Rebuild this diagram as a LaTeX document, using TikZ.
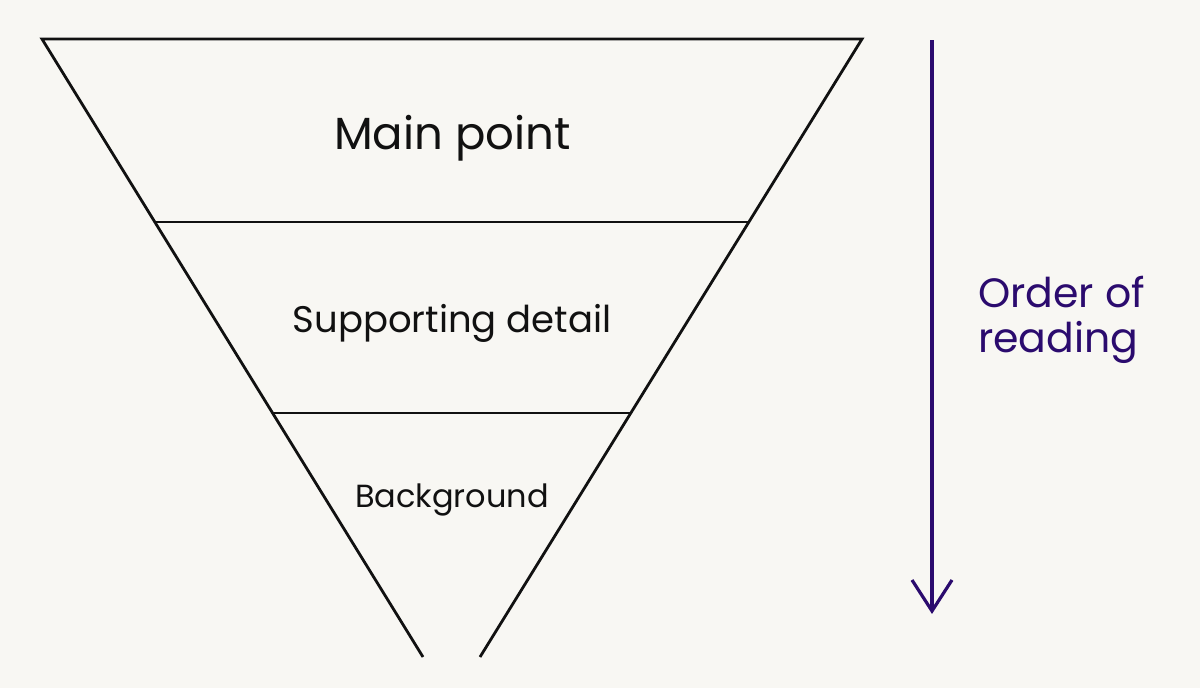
\documentclass[tikz,border=0pt]{standalone}
\usepackage{fontspec}
\setmainfont{Poppins}
\usetikzlibrary{calc}
\definecolor{bgc}{HTML}{F8F7F3}
\definecolor{ink}{HTML}{111111}
\definecolor{purp}{HTML}{2B0B6E}
\tikzset{
  funnelline/.style={draw=ink, line width=2.8pt, line cap=butt},
  readline/.style={draw=purp, line width=3.2pt},
  lab/.style={inner sep=0pt, anchor=base, text=ink},
  sidelab/.style={inner sep=0pt, anchor=base west, text=purp, font=\fontsize{41}{45}\selectfont},
}
\begin{document}
\begin{tikzpicture}[x=1pt,y=-1pt]
\fill[bgc] (0,0) rectangle (1200,688);
\useasboundingbox (0,0) rectangle (1200,688);
\coordinate (tl) at (42,39);
\coordinate (tr) at (862,39);
\coordinate (bl) at (423,657);
\coordinate (br) at (480,657);
\coordinate (l1) at ($(tl)!0.2961!(bl)$);
\coordinate (r1) at ($(tr)!0.2961!(br)$);
\coordinate (l2) at ($(tl)!0.6052!(bl)$);
\coordinate (r2) at ($(tr)!0.6052!(br)$);
\draw[funnelline, line join=miter] (bl) -- (tl) -- (tr) -- (br);
\draw[funnelline] (l1) -- (r1);
\draw[funnelline] (l2) -- (r2);
\node[lab, font=\fontsize{45}{50}\selectfont] (main) at (452.5,149) {Main point};
\node[lab, font=\fontsize{37}{44}\selectfont] (supp) at (452,332) {Supporting detail};
\node[lab, font=\fontsize{32}{36}\selectfont] (back) at (452,507) {Background};
\node[sidelab] (ord) at (978,307) {Order of};
\node[sidelab] (rdg) at (978,352) {reading};
\coordinate (atop) at (932,40);
\coordinate (atip) at (932,611);
\draw[readline] (atop) -- (atip);
\draw[readline, line join=miter] ($(atip)+(-20,-31)$) -- (atip) -- ($(atip)+(20,-31)$);
\end{tikzpicture}
\end{document}
